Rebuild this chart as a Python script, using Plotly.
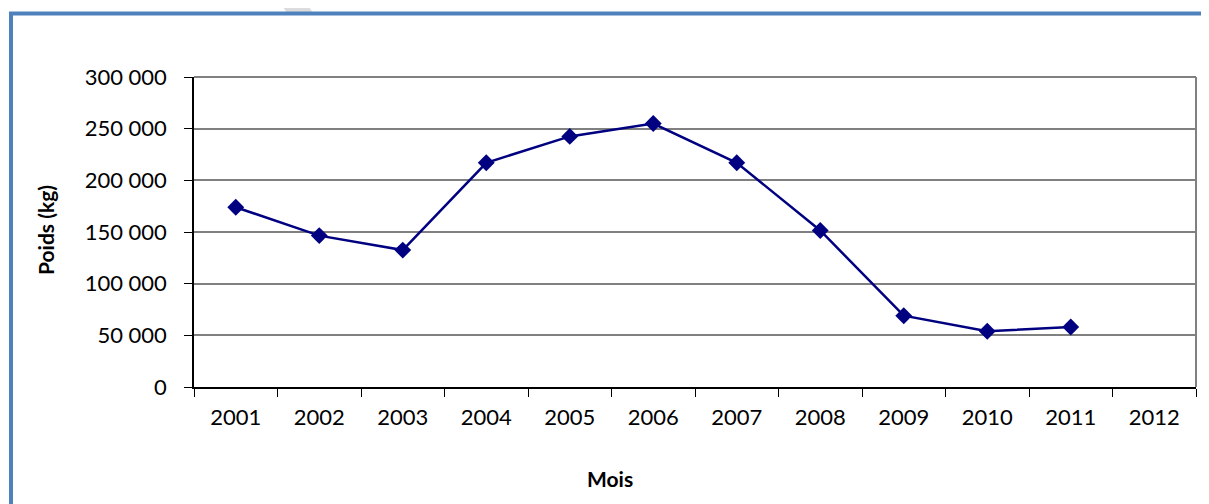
import plotly.graph_objects as go

years = ["2001", "2002", "2003", "2004", "2005", "2006", "2007", "2008", "2009", "2010", "2011", "2012"]
poids = [174000, 146500, 132500, 217000, 242500, 255000, 217000, 151500, 69000, 54000, 58000, None]
y_ticks = [0, 50000, 100000, 150000, 200000, 250000, 300000]
dark_grid = [100000, 200000]

FONT = "Lato"
BLUE = "#4F81BD"
NAVY = "#000080"

fig = go.Figure()
fig.add_trace(go.Scatter(
    x=years, y=poids, mode="lines+markers",
    line=dict(color=NAVY, width=2.5),
    marker=dict(symbol="diamond", size=13, color=NAVY),
    connectgaps=False, showlegend=False, hoverinfo="x+y",
))

shapes = []
for v in dark_grid:
    shapes.append(dict(type="line", xref="paper", yref="y", x0=0, x1=1, y0=v, y1=v,
                       line=dict(color="#000000", width=1.3), layer="between"))
shapes.append(dict(type="line", xref="paper", yref="paper", x0=0, x1=1, y0=1, y1=1,
                   line=dict(color="#808080", width=2)))
shapes.append(dict(type="line", xref="paper", yref="paper", x0=1, x1=1, y0=0, y1=1,
                   line=dict(color="#808080", width=2)))

# page-pixel -> paper conversion (plot area on page: x 194..1196, y 77..387)
L, T, W, H = 194, 77, 1002, 310
def px(x):
    return (x - L) / W
def py(y):
    return (T + H - y) / H

shapes.append(dict(type="path", xref="paper", yref="paper",
                   path=f"M {px(277)},{py(-2)} L {px(303)},{py(-2)} L {px(313)},{py(13)} L {px(287)},{py(13)} Z",
                   fillcolor="#DCDCDC", line=dict(width=0), layer="above"))
shapes.append(dict(type="line", xref="paper", yref="paper", x0=px(9), x1=px(1215), y0=py(13.5), y1=py(13.5),
                   line=dict(color=BLUE, width=4)))
shapes.append(dict(type="line", xref="paper", yref="paper", x0=px(11), x1=px(11), y0=py(12), y1=py(510),
                   line=dict(color=BLUE, width=4)))

# the page body has an 8px margin, so the figure is shifted by 8px
fig.update_layout(
    width=1201, height=496,
    margin=dict(l=186, r=13, t=69, b=117),
    paper_bgcolor="white", plot_bgcolor="white",
    separators=", ",
    font=dict(family=FONT, size=22, color="#000000"),
    shapes=shapes,
    xaxis=dict(
        type="category", categoryorder="array", categoryarray=years,
        range=[-0.5, 11.5], tickson="boundaries",
        ticks="outside", ticklen=8, tickwidth=1.3, tickcolor="#000000",
        showline=True, linecolor="#000000", linewidth=1.5,
        showgrid=False, zeroline=False, ticklabelstandoff=10,
        tickfont=dict(family=FONT, size=22),
        fixedrange=True,
    ),
    yaxis=dict(
        range=[0, 300000], tickvals=y_ticks, tickformat=",d",
        ticks="outside", ticklen=8, tickwidth=1.3, tickcolor="#000000",
        showline=True, linecolor="#000000", linewidth=1.5,
        showgrid=True, gridcolor="#808080", gridwidth=1.5,
        zeroline=False, ticklabelstandoff=13,
        tickfont=dict(family=FONT, size=22),
        fixedrange=True,
    ),
    annotations=[
        dict(text="<b>Mois</b>", xref="paper", yref="paper",
             x=px(610), y=py(478), showarrow=False,
             font=dict(family=FONT, size=21), xanchor="center", yanchor="middle"),
        dict(text="<b>Poids (kg)</b>", xref="paper", yref="paper", textangle=-90,
             x=px(45), y=py(230), showarrow=False,
             font=dict(family=FONT, size=21), xanchor="center", yanchor="middle"),
    ],
)

fig.write_html("out.html")
